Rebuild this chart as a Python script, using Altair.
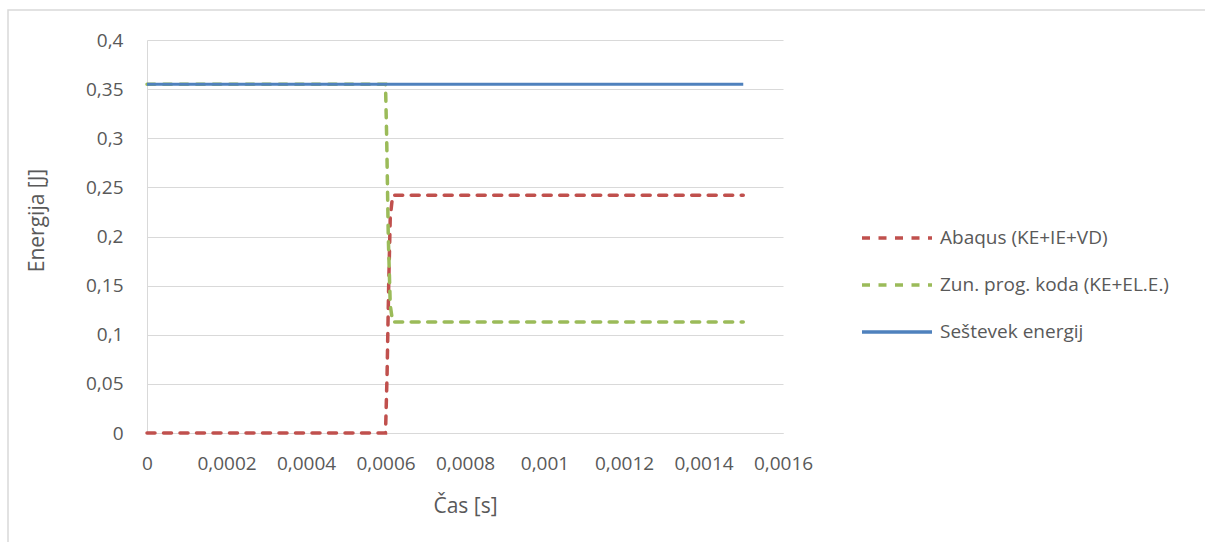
import altair as alt
import pandas as pd

# Data
abaqus_t = [0, 0.0006, 0.000604, 0.000608, 0.000612, 0.000618, 0.0015]
abaqus_e = [0, 0, 0.06, 0.15, 0.22, 0.242, 0.242]
zun_t = [0, 0.0006, 0.000603, 0.000607, 0.000612, 0.000618, 0.0015]
zun_e = [0.355, 0.355, 0.3, 0.2, 0.13, 0.113, 0.113]
sum_t = [0, 0.0015]
sum_e = [0.355, 0.355]

series_names = ["Abaqus (KE+IE+VD)", "Zun. prog. koda (KE+EL.E.)", "Seštevek energij"]
series_colors = ["#C0504D", "#9BBB59", "#4F81BD"]
x_ticks = [0, 0.0002, 0.0004, 0.0006, 0.0008, 0.001, 0.0012, 0.0014, 0.0016]
y_ticks = [0, 0.05, 0.1, 0.15, 0.2, 0.25, 0.3, 0.35, 0.4]

rows = []
for i, (t, e) in enumerate(zip(abaqus_t, abaqus_e)):
    rows.append({"t": t, "e": e, "s": series_names[0], "i": i})
for i, (t, e) in enumerate(zip(zun_t, zun_e)):
    rows.append({"t": t, "e": e, "s": series_names[1], "i": i})
for i, (t, e) in enumerate(zip(sum_t, sum_e)):
    rows.append({"t": t, "e": e, "s": series_names[2], "i": i})
df = pd.DataFrame(rows)

FONT = "Open Sans"
TXT = "#595959"

x_enc = alt.X("t:Q", title="Čas [s]",
              scale=alt.Scale(domain=[0, 0.0016], nice=False),
              axis=alt.Axis(values=x_ticks, grid=False, ticks=False,
                            labelExpr="replace(format(datum.value, '~g'), '.', ',')",
                            labelOverlap=False, labelFlush=False, labelBound=False,
                            labelFontSize=19, labelColor=TXT, labelPadding=21,
                            titleFontSize=21, titleColor=TXT, titleFontWeight="normal",
                            titlePadding=22, domainColor="#D9D9D9", labelFont=FONT, titleFont=FONT))
y_enc = alt.Y("e:Q", title="Energija [J]",
              scale=alt.Scale(domain=[0, 0.4], nice=False),
              axis=alt.Axis(values=y_ticks, grid=True, gridColor="#D9D9D9", ticks=False,
                            labelExpr="replace(format(datum.value, '~g'), '.', ',')",
                            labelOverlap=False, labelFlush=False,
                            labelFontSize=19, labelColor=TXT, labelPadding=24,
                            titleFontSize=21, titleColor=TXT, titleFontWeight="normal",
                            titlePadding=38, titleY=180, domainColor="#D9D9D9",
                            labelFont=FONT, titleFont=FONT))
color_enc = alt.Color("s:N", scale=alt.Scale(domain=series_names, range=series_colors),
                      legend=alt.Legend(title=None, orient="none", legendX=713, legendY=161,
                                        symbolType="stroke", symbolSize=4900, symbolStrokeWidth=3.5,
                                        labelFontSize=19, labelColor=TXT, labelFont=FONT,
                                        labelLimit=400, rowPadding=-22, labelOffset=6))
dash_enc = alt.StrokeDash("s:N", scale=alt.Scale(domain=series_names, range=[[8, 8.5], [8, 8.5], [1, 0]]),
                          legend=None)

base = alt.Chart(df).encode(x=x_enc, y=y_enc, color=color_enc, strokeDash=dash_enc, order="i:Q")

frame = alt.Chart(pd.DataFrame({"a": [0]})).mark_rect(
    fill=None, stroke="#D9D9D9", strokeWidth=1.5, clip=False
).encode(x=alt.value(-139), x2=alt.value(1100), y=alt.value(-30), y2=alt.value(600))

lines_rg = base.transform_filter(alt.datum.s != series_names[2]).mark_line(strokeWidth=3.5, strokeCap="round")
line_b = base.transform_filter(alt.datum.s == series_names[2]).mark_line(strokeWidth=3)

chart = alt.layer(frame, lines_rg, line_b).properties(
    width=636, height=393,
    autosize=alt.AutoSizeParams(type="none"),
    padding={"left": 147, "top": 40, "right": 422, "bottom": 109},
    background="white"
).configure_view(stroke=None)

chart.save("out.html", embed_options={"renderer": "svg", "actions": False})
